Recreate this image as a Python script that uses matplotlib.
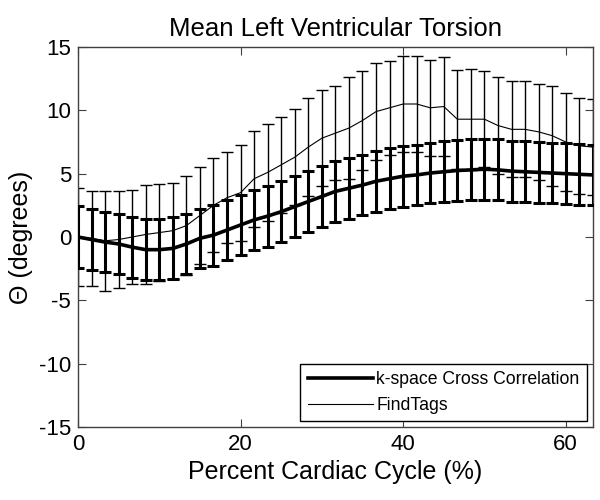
import matplotlib
matplotlib.use("Agg")
import matplotlib.pyplot as plt
from matplotlib.lines import Line2D
import numpy as np

plt.rcParams['font.family'] = ['Liberation Sans', 'DejaVu Sans']
plt.rcParams['axes.unicode_minus'] = False

# percent of cardiac cycle, one frame every 100/60 %
frames = np.arange(39)
cycle = frames * 100.0 / 60.0

kspace_mean = [0, -0.2, -0.4, -0.55, -0.8, -1.0, -1.0, -0.9, -0.55, -0.1,
               0.15, 0.55, 0.95, 1.35, 1.65, 2.0, 2.4, 2.8, 3.2, 3.6,
               3.85, 4.1, 4.4, 4.6, 4.8, 4.9, 5.05, 5.15, 5.25, 5.3,
               5.35, 5.3, 5.2, 5.15, 5.1, 5.05, 5.0, 4.95, 4.9]
kspace_std = [2.45, 2.4, 2.4, 2.4, 2.4, 2.4, 2.4, 2.45, 2.4, 2.35,
              2.4, 2.4, 2.4, 2.4, 2.4, 2.4, 2.4, 2.4, 2.4, 2.4,
              2.4, 2.4, 2.4, 2.4, 2.4, 2.4, 2.4, 2.4, 2.4, 2.4,
              2.4, 2.4, 2.4, 2.4, 2.4, 2.4, 2.4, 2.4, 2.4]

findtags_mean = [0, -0.1, -0.3, -0.2, 0.0, 0.2, 0.35, 0.5, 0.9, 1.7,
                 2.5, 3.1, 3.5, 4.6, 5.1, 5.7, 6.3, 7.1, 7.8, 8.2,
                 8.6, 9.2, 9.9, 10.2, 10.5, 10.5, 10.2, 10.3, 9.3, 9.3,
                 9.3, 8.8, 8.5, 8.5, 8.3, 8.0, 7.5, 7.2, 7.1]
findtags_std = [3.85, 3.75, 3.95, 3.85, 3.7, 3.9, 3.85, 3.8, 3.9, 3.8,
                3.7, 3.6, 3.8, 3.8, 3.8, 3.8, 3.8, 3.9, 3.8, 3.7,
                4.0, 3.9, 3.8, 3.7, 3.8, 3.8, 3.8, 3.9, 3.9, 4.0,
                3.8, 3.8, 3.8, 3.8, 3.8, 3.95, 3.9, 3.8, 3.8]

fig = plt.figure(figsize=(6, 5), dpi=100)
ax = fig.add_axes([0.13, 0.146, 0.858, 0.76])

# thin series first, thick on top
ax.errorbar(cycle, findtags_mean, yerr=findtags_std, color='black', lw=0.8,
            elinewidth=1.0, capsize=4.5, capthick=1.0, zorder=2)
ax.errorbar(cycle, kspace_mean, yerr=kspace_std, color='black', lw=2.6,
            elinewidth=2.2, capsize=4.5, capthick=2.2, zorder=3)

handles = [Line2D([], [], color='black', lw=2.6),
           Line2D([], [], color='black', lw=0.8)]
labels = ['k-space Cross Correlation', 'FindTags']
leg = ax.legend(handles, labels, loc='lower right', fontsize=12.7,
                fancybox=False, framealpha=1, edgecolor='black',
                borderaxespad=0.35, handlelength=3.7, borderpad=0.4,
                labelspacing=0.5, handletextpad=0.2)
leg.get_frame().set_linewidth(1.0)

ax.set_xlim(0, 100 * 38 / 60.0)
ax.set_ylim(-15, 15)
ax.set_xticks([0, 20, 40, 60])
ax.set_yticks([-15, -10, -5, 0, 5, 10, 15])
ax.tick_params(direction='in', top=True, right=True, labelsize=16,
               length=6, width=0.8, colors='0.25', labelcolor='black', pad=5)
for s in ax.spines.values():
    s.set_color('0.25')
    s.set_linewidth(1.0)

ax.set_title('Mean Left Ventricular Torsion', fontsize=18.5, pad=8)
ax.set_xlabel('Percent Cardiac Cycle (%)', fontsize=18, labelpad=4)
ax.set_ylabel('Θ (degrees)', fontsize=18, labelpad=4)

plt.savefig('out.png', dpi=100)
